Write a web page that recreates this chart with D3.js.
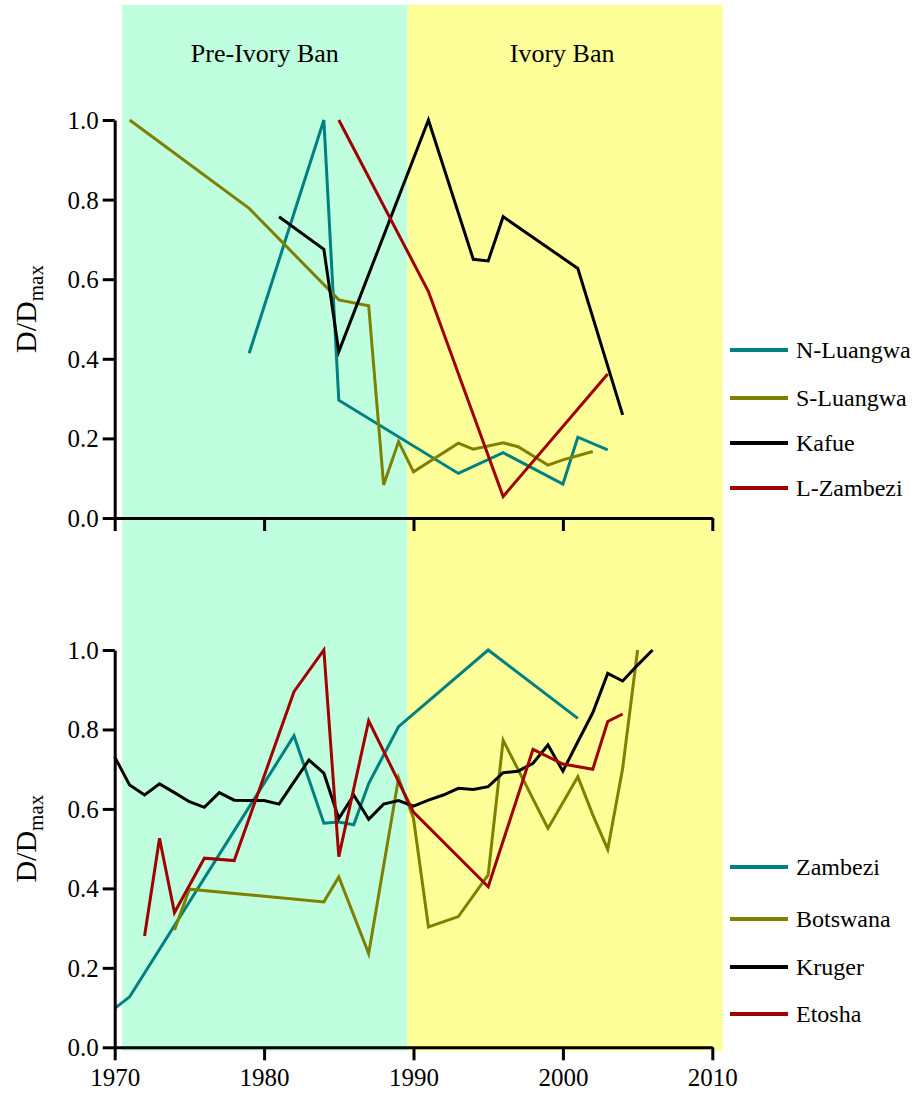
<!DOCTYPE html>
<html>
<head>
<meta charset="utf-8">
<script src="https://cdn.jsdelivr.net/npm/d3@7"></script>
<style>
  body { margin: 0; background: #fff; }
  svg text { font-family: "Liberation Serif", "Times New Roman", Times, serif !important; fill: #000; }
</style>
</head>
<body>
<div id="chart"></div>
<script>
// era bands (years)
const eras = [
  { label: "Pre-Ivory Ban", start: 1970.5, end: 1989.6, color: "#bfffdf" },
  { label: "Ivory Ban", start: 1989.6, end: 2010.7, color: "#ffff99" }
];

// top panel series: [year, D/Dmax]
const nLuangwa = [[1979, 0.414], [1984, 1.0], [1985, 0.296], [1993, 0.112], [1996, 0.164], [2000, 0.085], [2001, 0.203], [2003, 0.171]];
const sLuangwa = [[1971, 1.0], [1979, 0.778], [1985, 0.548], [1987, 0.533], [1988, 0.083], [1989, 0.192], [1990, 0.116],
  [1993, 0.188], [1994, 0.173], [1996, 0.189], [1997, 0.179], [1999, 0.133], [2000, 0.146], [2002, 0.167]];
const kafue = [[1981, 0.757], [1984, 0.675], [1985, 0.418], [1991, 1.0], [1994, 0.65], [1995, 0.646], [1996, 0.757], [2001, 0.627], [2004, 0.259]];
const lZambezi = [[1985, 1.0], [1991, 0.569], [1996, 0.054], [2003, 0.362]];

// bottom panel series
const zambezi = [[1970, 0.098], [1971, 0.127], [1982, 0.784], [1984, 0.564], [1985, 0.567], [1986, 0.56], [1987, 0.664], [1989, 0.807], [1995, 1.0], [2001, 0.828]];
const botswana = [[1974, 0.295], [1975, 0.398], [1984, 0.366], [1985, 0.429], [1987, 0.236], [1989, 0.677], [1990, 0.576], [1991, 0.303],
  [1993, 0.329], [1995, 0.434], [1996, 0.773], [1999, 0.551], [2001, 0.681], [2002, 0.585], [2003, 0.498], [2004, 0.702], [2005, 1.0]];
const kruger = [[1970, 0.731], [1971, 0.66], [1972, 0.635], [1973, 0.663], [1974, 0.641], [1975, 0.618], [1976, 0.604], [1977, 0.641],
  [1978, 0.622], [1979, 0.621], [1980, 0.621], [1981, 0.612], [1982, 0.668], [1983, 0.723], [1984, 0.69], [1985, 0.576], [1986, 0.635],
  [1987, 0.574], [1988, 0.612], [1989, 0.621], [1990, 0.607], [1991, 0.622], [1992, 0.635], [1993, 0.652], [1994, 0.649], [1995, 0.656],
  [1996, 0.691], [1997, 0.695], [1998, 0.715], [1999, 0.761], [2000, 0.695], [2001, 0.769], [2002, 0.842], [2003, 0.941], [2004, 0.922],
  [2005, 0.962], [2006, 1.0]];
const etosha = [[1972, 0.28], [1973, 0.526], [1974, 0.339], [1976, 0.476], [1978, 0.47], [1982, 0.895], [1984, 1.0], [1985, 0.48],
  [1987, 0.822], [1990, 0.592], [1995, 0.404], [1998, 0.75], [2000, 0.713], [2002, 0.7], [2003, 0.82], [2004, 0.839]];

const xTicks = [1970, 1980, 1990, 2000, 2010];
const yTicks = [0, 0.2, 0.4, 0.6, 0.8, 1.0];

const topSeries = [
  { name: "N-Luangwa", color: "#008080", data: nLuangwa },
  { name: "S-Luangwa", color: "#808000", data: sLuangwa },
  { name: "Kafue", color: "#000000", data: kafue },
  { name: "L-Zambezi", color: "#a00000", data: lZambezi }
];
const bottomSeries = [
  { name: "Zambezi", color: "#008080", data: zambezi },
  { name: "Botswana", color: "#808000", data: botswana },
  { name: "Kruger", color: "#000000", data: kruger },
  { name: "Etosha", color: "#a00000", data: etosha }
];

const width = 919, height = 1093;
const serif = '"Liberation Serif", "Times New Roman", Times, serif';

const svg = d3.select("#chart")
  .append("svg")
  .attr("width", width)
  .attr("height", height)
  .attr("font-family", serif);

const x = d3.scaleLinear().domain([1970, 2010]).range([114.7, 712.3]);

// background era shading
svg.selectAll("rect.era")
  .data(eras)
  .enter()
  .append("rect")
  .attr("class", "era")
  .attr("x", d => x(d.start))
  .attr("width", d => x(d.end) - x(d.start))
  .attr("y", 5)
  .attr("height", 1046)
  .attr("fill", d => d.color);

svg.selectAll("text.era")
  .data(eras)
  .enter()
  .append("text")
  .attr("class", "era")
  .attr("x", d => (x(d.start) + x(d.end)) / 2 - (d.label === "Ivory Ban" ? 3 : 0))
  .attr("y", 62)
  .attr("text-anchor", "middle")
  .style("font-size", "26px")
  .text(d => d.label);

function panel(series, y0, y1, showXLabels, legendY) {
  const y = d3.scaleLinear().domain([0, 1]).range([y0, y1]);

  const line = d3.line()
    .x(d => x(d[0]))
    .y(d => y(d[1]));

  svg.append("g")
    .selectAll("path")
    .data(series)
    .enter()
    .append("path")
    .attr("d", d => line(d.data))
    .attr("fill", "none")
    .attr("stroke", d => d.color)
    .attr("stroke-width", 3)
    .attr("stroke-linejoin", "miter");

  // Y axis
  const ya = svg.append("g")
    .attr("transform", `translate(${x(1970)},0)`)
    .call(d3.axisLeft(y).tickValues(yTicks).tickFormat(d3.format(".1f")).tickSize(12).tickSizeOuter(0).tickPadding(4));
  ya.attr("font-family", serif).attr("font-size", 25);
  ya.select(".domain").attr("stroke-width", 3);
  ya.selectAll(".tick line").attr("stroke-width", 3);
  ya.selectAll(".tick text").attr("dy", "0.34em");

  // X axis
  const xa = svg.append("g")
    .attr("transform", `translate(0,${y0})`)
    .call(d3.axisBottom(x).tickValues(xTicks).tickFormat(showXLabels ? d3.format("d") : () => "").tickSize(13).tickSizeOuter(0).tickPadding(8));
  xa.attr("font-family", serif).attr("font-size", 25);
  xa.select(".domain").attr("stroke-width", 3);
  xa.selectAll(".tick line").attr("stroke-width", 3);

  // Y label
  const cy = (y0 + y1) / 2;
  const lab = svg.append("text")
    .attr("transform", `translate(36,${cy - 10}) rotate(-90)`)
    .attr("text-anchor", "middle")
    .style("font-size", "30px");
  lab.append("tspan").text("D/D");
  lab.append("tspan").attr("dy", 7).style("font-size", "21px").text("max");

  // legend
  const lg = svg.append("g")
    .selectAll("g")
    .data(series)
    .enter()
    .append("g")
    .attr("transform", (d, i) => `translate(730,${legendY[i]})`);
  lg.append("line")
    .attr("x1", 0).attr("x2", 58)
    .attr("stroke", d => d.color)
    .attr("stroke-width", 4);
  lg.append("text")
    .attr("x", 66)
    .attr("dy", "0.35em")
    .style("font-size", "24px")
    .text(d => d.name);
}

panel(topSeries, 518, 120, false, [350, 398, 443, 488]);
panel(bottomSeries, 1047.3, 650, true, [867, 919, 967, 1014]);
</script>
</body>
</html>
